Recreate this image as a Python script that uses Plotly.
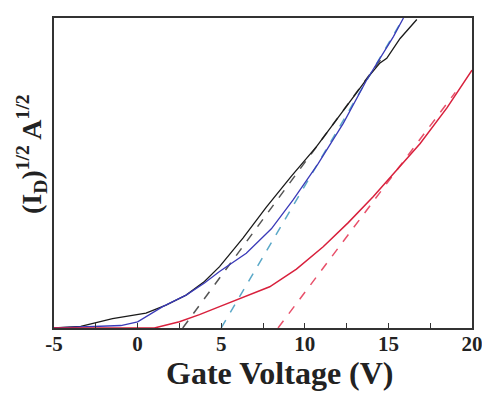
import plotly.graph_objects as go

# Data (y in arbitrary units, 0..1 spans plot height)
black_x = [-5, -3.4, -1.5, 0.5, 1.7, 2.9, 4.0, 4.9, 6.3, 7.7, 9.2, 10.7, 11.8, 12.9, 13.8, 14.5, 14.9, 15.7, 16.7]
black_y = [0.0, 0.005, 0.03, 0.048, 0.074, 0.106, 0.15, 0.198, 0.29, 0.39, 0.49, 0.585, 0.665, 0.746, 0.81, 0.855, 0.87, 0.934, 0.995]

blue_x = [-5, -1.0, 0.0, 1.5, 2.9, 4.0, 4.9, 6.5, 8.0, 9.3, 10.8, 12.3, 13.7, 14.7, 15.3, 15.9]
blue_y = [0.0, 0.008, 0.02, 0.069, 0.106, 0.145, 0.182, 0.241, 0.32, 0.413, 0.53, 0.66, 0.8, 0.886, 0.94, 1.0]

red_x = [-5, 1.0, 2.5, 3.7, 4.9, 6.4, 7.9, 9.5, 11.1, 12.6, 14.1, 15.5, 16.9, 18.5, 20.0]
red_y = [0.0, 0.0, 0.02, 0.043, 0.069, 0.1, 0.133, 0.19, 0.262, 0.34, 0.424, 0.51, 0.595, 0.71, 0.832]

black_fit_x = [2.7, 14.6]
black_fit_y = [0.0, 0.87]
blue_fit_x = [5.0, 15.9]
blue_fit_y = [0.0, 1.0]
red_fit_x = [8.4, 19.0]
red_fit_y = [0.0, 0.76]

x_tick_vals = [-5, 0, 5, 10, 15, 20]
x_tick_text = ["-5", "0", "5", "10", "15", "20"]
x_minor_vals = [-2.5, 2.5, 7.5, 12.5, 17.5]

fig = go.Figure()
fig.add_trace(go.Scatter(x=black_fit_x, y=black_fit_y, mode="lines",
                         line=dict(color="#555555", width=1.5, dash="dash")))
fig.add_trace(go.Scatter(x=blue_fit_x, y=blue_fit_y, mode="lines",
                         line=dict(color="#5aa8c8", width=1.5, dash="dash")))
fig.add_trace(go.Scatter(x=red_fit_x, y=red_fit_y, mode="lines",
                         line=dict(color="#e8506a", width=1.5, dash="dash")))
fig.add_trace(go.Scatter(x=black_x, y=black_y, mode="lines",
                         line=dict(color="#1a1a1a", width=1.3)))
fig.add_trace(go.Scatter(x=blue_x, y=blue_y, mode="lines",
                         line=dict(color="#3a3ab8", width=1.3)))
fig.add_trace(go.Scatter(x=red_x, y=red_y, mode="lines",
                         line=dict(color="#d8203c", width=1.5)))

font_family = "Liberation Serif"
fig.update_layout(
    width=482, height=394,
    margin=dict(l=54, r=10, t=18, b=66),
    plot_bgcolor="white", paper_bgcolor="white",
    showlegend=False,
    font=dict(family=font_family, color="#222222"),
    xaxis=dict(
        range=[-5, 20], tickvals=x_tick_vals,
        ticktext=["<b>%s</b>" % t for t in x_tick_text],
        ticks="inside", ticklen=5, tickcolor="#333333",
        minor=dict(tickvals=x_minor_vals, ticks="inside", ticklen=5, tickcolor="#333333"),
        showline=True, linecolor="#333333", linewidth=1.5, mirror=True,
        showgrid=False, zeroline=False, automargin=False,
        ticklabeloverflow="allow", ticklabelstandoff=-4,
        tickfont=dict(size=21, family=font_family, color="#222222"),
    ),
    yaxis=dict(
        range=[0, 1], showticklabels=False, ticks="",
        showline=True, linecolor="#333333", linewidth=1.5, mirror=True,
        showgrid=False, zeroline=False, automargin=False,
    ),
    annotations=[
        dict(text="<b>Gate Voltage (V)</b>", xref="paper", yref="paper",
             x=0.541, y=0, xanchor="center", yanchor="middle", yshift=-45,
             showarrow=False, font=dict(size=32, family=font_family, color="#222222")),
        dict(text="<b>(I<sub>D</sub>)<sup>1/2</sup>\u2009A<sup>1/2</sup></b>", xref="paper", yref="paper",
             x=0, y=0.5, xanchor="center", yanchor="middle", xshift=-23, yshift=19,
             textangle=-90, showarrow=False,
             font=dict(size=28, family=font_family, color="#222222")),
    ],
)
fig.write_html("out.html")
